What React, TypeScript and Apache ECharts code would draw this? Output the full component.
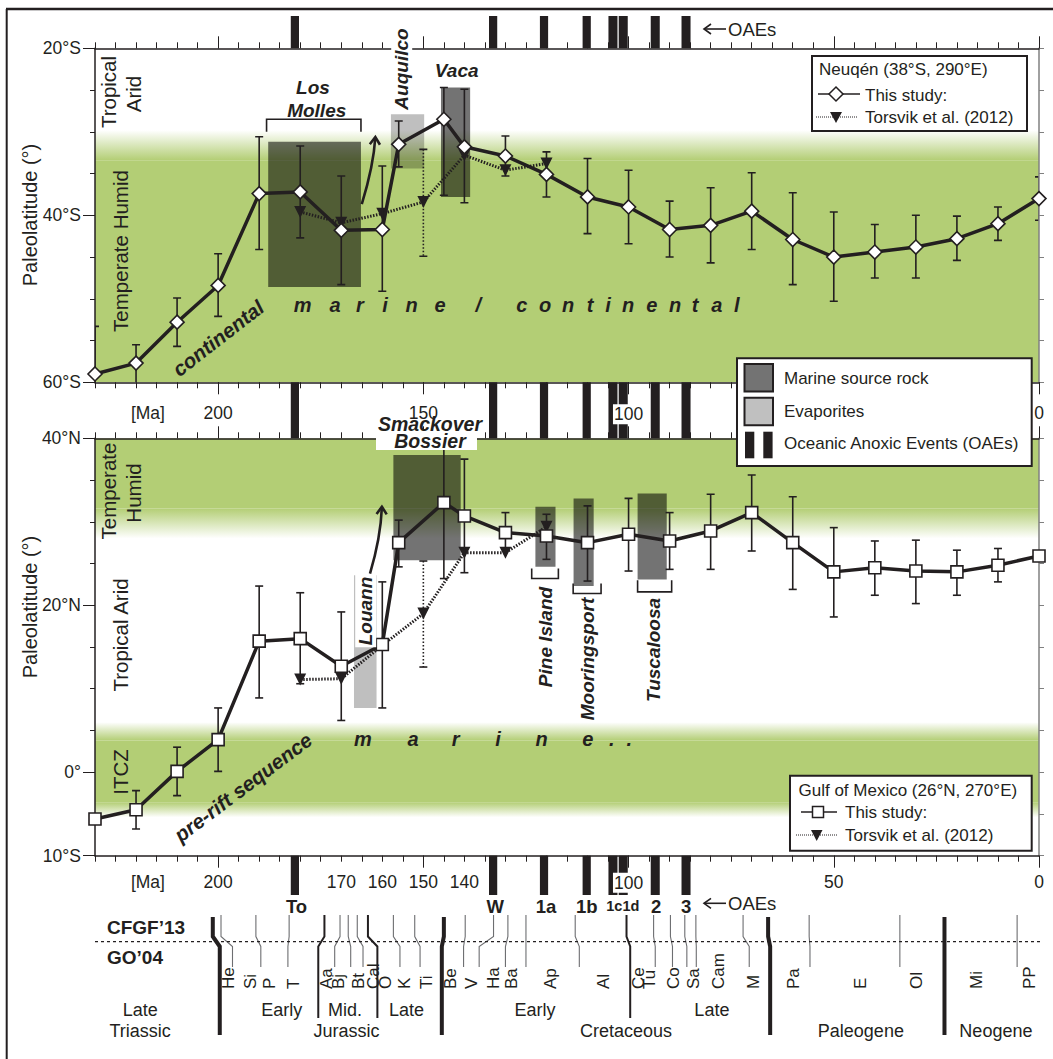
import React, { useEffect, useRef } from 'react';
import * as echarts from 'echarts';

const INK = '#231f20';
const GREEN = '#b3ce75';
const GREEN0 = 'rgba(179,206,117,0)';
const DARK_BOX = 'rgba(0,0,0,0.55)';
const LIGHT_BOX = 'rgba(0,0,0,0.25)';
const FONT = '"Liberation Sans", Arial, Helvetica, sans-serif';

// ---------- axes ----------
const AGE_MIN = 0;
const AGE_MAX = 230;
const maMajorTicks = [0, 50, 100, 150, 200];
const maLabelsTop = [217.1, 200, 150, 100, 0];
const maLabelsBottom = [217.1, 200, 170, 160, 150, 140, 100, 50, 0];
const latLabelsTop = [-20, -40, -60];
const latLabelsBottom = [40, 20, 0, -10];

// ---------- Neuquén (top panel) ----------
const neuquenStudy = [
  [230, -59.0], [220, -57.7], [210, -52.8], [200, -48.4], [190, -37.4], [180, -37.2],
  [170, -41.8], [160, -41.7], [156, -31.5], [145, -28.5], [140, -31.8], [130, -32.9],
  [120, -35.1], [110, -37.8], [100, -39.0], [90, -41.7], [80, -41.2], [70, -39.5],
  [60, -42.9], [50, -45.0], [40, -44.4], [30, -43.8], [20, -42.8], [10, -41.0], [0, -38.0],
];
const neuquenStudyErr = [
  [230, -53.3, -63], [220, -55.5, -61], [210, -49.9, -55.7], [200, -44.6, -52.1],
  [190, -30.6, -44.1], [180, -31.7, -42.7], [170, -35.3, -48.3], [160, -34.1, -49.1],
  [156, -28.7, -34.2], [145, -24.7, -37.6], [140, -24.9, -38.5], [130, -30.5, -35.3],
  [120, -32.4, -37.8], [110, -33.2, -42.2], [100, -34.6, -43.4], [90, -38.3, -45.0],
  [80, -36.7, -45.7], [70, -34.9, -44.1], [60, -37.3, -48.3], [50, -39.6, -50.3],
  [40, -41.1, -47.5], [30, -40.0, -47.5], [20, -40.1, -45.4], [10, -39.0, -43.0], [0, -35.4, -40.6],
];
const neuquenTorsvik = [[180, -39.6], [170, -40.9], [160, -39.8], [150, -38.4], [140, -32.8], [130, -34.6], [120, -33.8]];
const neuquenTorsvikErr = [[150, -32.1, -44.9]];
const neuquenBands = [[-29.8, -33.4, 1], [-33.4, -60, 0]];
const neuquenSourceRocks = [[187.8, 165.2, -31.2, -48.6], [145.7, 138.6, -24.7, -37.8]];
const neuquenEvaporites = [[157.9, 149.8, -27.9, -34.4]];
const neuquenBrackets = [[188.2, 165.2, -28.5, -30.0]];
const neuquenArrows = [[165.0, -38.65, 163.2, -35.77, 162.0, -33.14, 161.7, -30.63]];

// ---------- Gulf of Mexico (bottom panel) ----------
const gulfStudy = [
  [230, -5.6], [220, -4.5], [210, 0.1], [200, 3.9], [190, 15.7], [180, 16.0],
  [170, 12.7], [160, 15.3], [156, 27.5], [145, 32.3], [140, 30.7], [130, 28.7],
  [120, 28.3], [110, 27.5], [100, 28.5], [90, 27.7], [80, 28.9], [70, 31.1],
  [60, 27.5], [50, 24.0], [40, 24.5], [30, 24.1], [20, 24.0], [10, 24.8], [0, 25.9],
];
const gulfStudyErr = [
  [220, -2.2, -6.8], [210, 3.0, -2.8], [200, 7.7, 0.1], [190, 22.3, 8.9], [180, 21.5, 10.6],
  [170, 19.2, 6.2], [160, 22.8, 7.7], [156, 30.2, 24.6], [145, 42, 23.2], [140, 37.5, 23.9],
  [130, 31.1, 26.8], [120, 30.9, 25.5], [110, 31.9, 22.9], [100, 32.8, 24.1], [90, 31.1, 24.3],
  [80, 33.3, 24.3], [70, 35.6, 26.5], [60, 33.0, 21.9], [50, 29.3, 18.6], [40, 27.7, 21.2],
  [30, 27.8, 20.2], [20, 26.6, 21.2], [10, 26.8, 22.8],
];
const gulfTorsvik = [[180, 11.1], [170, 11.2], [160, 15.2], [150, 19.0], [140, 26.3], [130, 26.3], [120, 29.4]];
const gulfTorsvikErr = [[150, 25.3, 12.6]];
const gulfBands = [[40, 31.6, 0], [31.6, 28.0, 2], [6.0, 3.8, 1], [3.8, -3.6, 0], [-3.6, -5.4, 2]];
const gulfSourceRocks = [[157.3, 140.9, 38.0, 25.4], [122.7, 117.8, 31.8, 24.6], [113.4, 108.5, 32.8, 22.3], [97.8, 90.7, 33.4, 23.1]];
const gulfEvaporites = [[166.9, 161.4, 23.6, 7.7]];
const gulfBrackets = [[123.6, 117.1, 23.2, 24.4], [113.5, 106.7, 21.4, 22.6], [97.8, 89.5, 21.6, 23.0]];
const gulfArrows = [[163.0, 23.8, 161.3, 26.6, 160.3, 29.0, 160.1, 31.8]];

// ---------- OAEs ----------
const oaeIntervals = [[182.3, 180.3], [134.0, 132.0], [121.6, 119.6], [111.2, 109.2], [104.9, 102.7], [102.4, 100.2], [94.6, 92.4], [87.1, 84.9]];
const oaeLabels = ['To', 'W', '1a', '1b', '1c1d', '2', '3'];
const oaeLabelAges = [180.9, 132.5, 120.1, 110.2, 101.4, 93.3, 86.0];

// ---------- time scale ----------
const cfgf13Bounds = [201.3, 199.3, 190.8, 182.7, 174.1, 170.3, 168.3, 166.1, 163.5, 157.3, 152.1, 145.0, 139.8, 132.9, 129.4, 125.0, 113.0, 100.5, 93.9, 89.8, 86.3, 83.6, 72.1, 66.0, 56.0, 33.9, 23.03, 5.33];
const go04Bounds = [199.6, 196.5, 189.6, 183.0, 175.6, 171.6, 167.7, 164.7, 161.2, 155.7, 150.8, 145.5, 140.2, 136.4, 130.0, 125.0, 112.0, 99.6, 93.5, 89.3, 85.8, 83.5, 70.6, 65.5, 55.8, 33.9, 23.03, 5.33];
const boundRank = [3, 1, 1, 1, 2, 1, 1, 1, 2, 1, 1, 3, 1, 1, 1, 1, 1, 2, 1, 1, 1, 1, 1, 3, 1, 1, 3, 1];
const stageLabels = ['He', 'Si', 'P', 'T', 'Aa', 'Bj', 'Bt', 'Cal', 'O', 'K', 'Ti', 'Be', 'V', 'Ha', 'Ba', 'Ap', 'Al', 'Ce', 'Tu', 'Co', 'Sa', 'Cam', 'M', 'Pa', 'E', 'Ol', 'Mi', 'PP'];
const stageLabelAges = [197.5, 192.2, 187.4, 181.7, 173.5, 170.7, 165.8, 162.2, 159.3, 154.5, 149.2, 143.5, 138.2, 133.0, 128.5, 119.1, 106.1, 97.6, 94.8, 89.1, 84.2, 78.1, 69.6, 59.9, 43.6, 29.8, 15.2, 2.2];
const unitLabels = ['Late', 'Triassic', 'Early', 'Mid.', 'Late', 'Jurassic', 'Early', 'Late', 'Cretaceous', 'Paleogene', 'Neogene'];
const unitLabelAges = [219.0, 219.0, 184.5, 169.1, 154.1, 168.7, 122.8, 79.7, 100.6, 43.4, 10.5];
const unitLabelRows = [0, 1, 0, 0, 0, 1, 0, 0, 1, 1, 1];

// ---------- helpers ----------
const fmtMa = (v: number) => (v > 210 ? '[Ma]' : v === 100 ? '{w|100}' : String(v));
const fmtLat = (v: number) => (v < 0 ? `${-v}°S` : v > 0 ? `${v}°N` : '0°');

const xBase = { type: 'value', min: AGE_MIN, max: AGE_MAX, inverse: true, splitLine: { show: false } };
function xShort(gridIndex: number, position: string) {
  return {
    ...xBase, gridIndex, position, interval: 5, z: 6,
    axisLine: { show: true, onZero: false, lineStyle: { color: INK, width: 1.5 } },
    axisTick: { show: true, length: 6, lineStyle: { color: INK, width: 1 } },
    axisLabel: { show: false },
  };
}
function xLong(gridIndex: number, position: string, labels: number[] | null, margin: number) {
  return {
    ...xBase, gridIndex, position, interval: 50, z: 9,
    axisLine: { show: false, onZero: false },
    axisTick: { show: true, length: 12, customValues: maMajorTicks, lineStyle: { color: INK, width: 1 } },
    axisLabel: labels
      ? {
          show: true, customValues: labels, margin, fontSize: 17.5, fontFamily: FONT, color: INK, formatter: fmtMa,
          rich: { w: { backgroundColor: '#fff', fontSize: 17.5, fontFamily: FONT, color: INK, padding: [1, 1] } },
        }
      : { show: false },
  };
}
function yShort(gridIndex: number, position: string, min: number, max: number, color: string) {
  return {
    type: 'value', gridIndex, position, min, max, interval: 5, z: 6, splitLine: { show: false },
    axisLine: { show: true, onZero: false, lineStyle: { color, width: 1.5 } },
    axisTick: { show: true, length: 5, lineStyle: { color, width: 1 } },
    axisLabel: { show: false },
  };
}
function yLong(gridIndex: number, min: number, max: number, values: number[]) {
  return {
    type: 'value', gridIndex, position: 'left', min, max, interval: 5, z: 6, splitLine: { show: false },
    axisLine: { show: false, onZero: false },
    axisTick: { show: true, length: 12, customValues: values, lineStyle: { color: INK, width: 1 } },
    axisLabel: { show: true, customValues: values, margin: 14, formatter: fmtLat, fontSize: 17.5, fontFamily: FONT, color: INK },
  };
}

const errRender = (dashed: boolean) => (params: any, api: any) => {
  const x = api.value(0);
  const a = api.coord([x, api.value(1)]);
  const b = api.coord([x, api.value(2)]);
  const cap = 4;
  const solid = { stroke: INK, lineWidth: 1.6 };
  return {
    type: 'group',
    children: [
      { type: 'line', shape: { x1: a[0], y1: a[1], x2: b[0], y2: b[1] }, style: dashed ? { stroke: INK, lineWidth: 1.6, lineDash: [1.5, 2] } : solid },
      { type: 'line', shape: { x1: a[0] - cap, y1: a[1], x2: a[0] + cap, y2: a[1] }, style: solid },
      { type: 'line', shape: { x1: b[0] - cap, y1: b[1], x2: b[0] + cap, y2: b[1] }, style: solid },
    ],
  };
};

const bandRender = (params: any, api: any) => {
  const mode = api.value(2);
  const p0 = api.coord([AGE_MAX, api.value(0)]);
  const p1 = api.coord([AGE_MIN, api.value(1)]);
  let fill: any = GREEN;
  if (mode === 1) fill = new echarts.graphic.LinearGradient(0, 0, 0, 1, [{ offset: 0, color: GREEN0 }, { offset: 1, color: GREEN }]);
  if (mode === 2) fill = new echarts.graphic.LinearGradient(0, 0, 0, 1, [{ offset: 0, color: GREEN }, { offset: 1, color: GREEN0 }]);
  return { type: 'rect', shape: { x: p0[0], y: p0[1], width: p1[0] - p0[0], height: p1[1] - p0[1] }, style: { fill } };
};

const boxRender = (fill: string) => (params: any, api: any) => {
  const p0 = api.coord([api.value(0), api.value(2)]);
  const p1 = api.coord([api.value(1), api.value(3)]);
  return {
    type: 'rect',
    shape: { x: Math.min(p0[0], p1[0]), y: Math.min(p0[1], p1[1]), width: Math.abs(p1[0] - p0[0]), height: Math.abs(p1[1] - p0[1]) },
    style: { fill },
  };
};

const bracketRender = (params: any, api: any) => {
  const a = api.coord([api.value(0), api.value(2)]);
  const b = api.coord([api.value(1), api.value(2)]);
  const legY = api.coord([api.value(0), api.value(3)])[1];
  return {
    type: 'polyline',
    shape: { points: [[a[0], legY], [a[0], a[1]], [b[0], b[1]], [b[0], legY]] },
    style: { stroke: INK, lineWidth: 1.6, fill: 'none' },
  };
};

const arrowRender = (params: any, api: any) => {
  const p = [0, 1, 2, 3].map((i) => api.coord([api.value(2 * i), api.value(2 * i + 1)]));
  const dx = p[3][0] - p[2][0];
  const dy = p[3][1] - p[2][1];
  const ang = Math.atan2(dy, dx);
  const L = 9;
  const h1 = [p[3][0] - L * Math.cos(ang - 0.6), p[3][1] - L * Math.sin(ang - 0.6)];
  const h2 = [p[3][0] - L * Math.cos(ang + 0.6), p[3][1] - L * Math.sin(ang + 0.6)];
  return {
    type: 'group',
    children: [
      { type: 'bezierCurve', shape: { x1: p[0][0], y1: p[0][1], cpx1: p[1][0], cpy1: p[1][1], cpx2: p[2][0], cpy2: p[2][1], x2: p[3][0], y2: p[3][1] }, style: { stroke: INK, lineWidth: 2.6, fill: 'none' } },
      { type: 'polyline', shape: { points: [h1, p[3], h2] }, style: { stroke: INK, lineWidth: 2.6, fill: 'none' } },
    ],
  };
};

const OAE_STRIPS = [[16, 48.3], [382.3, 438.3], [855.7, 895]];
const oaeRender = (params: any, api: any) => {
  const x0 = api.coord([api.value(0), 0])[0];
  const x1 = api.coord([api.value(1), 0])[0];
  return {
    type: 'group',
    children: OAE_STRIPS.map(([a, b]) => ({
      type: 'rect', shape: { x: Math.min(x0, x1), y: a, width: Math.abs(x1 - x0), height: b - a }, style: { fill: INK },
    })),
  };
};
const oaeLabelRender = (params: any, api: any) => {
  const x = api.coord([api.value(0), 0])[0];
  const t = oaeLabels[params.dataIndex];
  return {
    type: 'text', x, y: 906,
    style: { text: t, fill: INK, fontFamily: FONT, fontWeight: 'bold', fontSize: t.length > 2 ? 14.5 : 18.5, align: 'center', verticalAlign: 'middle' },
  };
};

const boundaryRender = (params: any, api: any) => {
  const xa = api.coord([api.value(0), 0])[0];
  const xb = api.coord([api.value(1), 0])[0];
  const rank = api.value(2);
  const yTop = rank === 3 ? 917 : 915;
  const yBot = rank === 3 ? 1035 : rank === 2 ? 1018 : 967;
  return {
    type: 'polyline',
    shape: { points: [[xa, yTop], [xa, 936.5], [xb, 946.5], [xb, yBot]] },
    style: { stroke: rank === 1 ? '#6d6e71' : INK, lineWidth: rank === 3 ? 4 : rank === 2 ? 2 : 1.1, fill: 'none' },
  };
};
const stageLabelRender = (params: any, api: any) => {
  const x = api.coord([api.value(0), 0])[0];
  return {
    type: 'text', x, y: 989, rotation: Math.PI / 2,
    style: { text: stageLabels[params.dataIndex], fill: INK, fontFamily: FONT, fontSize: 17, align: 'left', verticalAlign: 'middle' },
  };
};
const unitLabelRender = (params: any, api: any) => {
  const x = api.coord([api.value(0), 0])[0];
  const row = unitLabelRows[params.dataIndex];
  return {
    type: 'text', x, y: row === 0 ? 1010 : 1031,
    style: { text: unitLabels[params.dataIndex], fill: INK, fontFamily: FONT, fontSize: 18, align: 'center', verticalAlign: 'middle' },
  };
};

function panelSeries(xi: number, yi: number, d: any, symbol: string, symbolSize: number) {
  const ax = { xAxisIndex: xi, yAxisIndex: yi };
  return [
    { type: 'custom', ...ax, data: d.bands, renderItem: bandRender, clip: true, z: 1, silent: true },
    { type: 'custom', ...ax, data: d.evaporites, renderItem: boxRender(LIGHT_BOX), clip: true, z: 2, silent: true },
    { type: 'custom', ...ax, data: d.sourceRocks, renderItem: boxRender(DARK_BOX), clip: true, z: 2, silent: true },
    { type: 'custom', ...ax, data: d.brackets, renderItem: bracketRender, clip: false, z: 3, silent: true },
    { type: 'custom', ...ax, data: d.arrows, renderItem: arrowRender, clip: false, z: 3, silent: true },
    { type: 'custom', ...ax, data: d.torsvikErr, renderItem: errRender(true), clip: true, z: 4, silent: true },
    {
      type: 'line', ...ax, data: d.torsvik, symbol: 'triangle', symbolRotate: 180, symbolSize: 12, clip: false, z: 4,
      lineStyle: { color: INK, width: 3, type: [1.5, 1.5] }, itemStyle: { color: INK }, silent: true,
    },
    { type: 'custom', ...ax, data: d.studyErr, renderItem: errRender(false), clip: true, z: 5, silent: true },
    {
      type: 'line', ...ax, data: d.study, symbol, symbolSize, clip: false, z: 7,
      lineStyle: { color: INK, width: 3.5 }, itemStyle: { color: '#fff', borderColor: INK, borderWidth: 1.6 }, silent: true,
    },
  ];
}

// ---------- graphic annotations ----------
const txt = (text: string, x: number, y: number, o: any = {}) => ({
  type: 'text', x, y, rotation: o.rot || 0, z: 20, silent: true,
  style: {
    text, fill: INK, fontFamily: FONT, fontSize: o.size || 17,
    fontWeight: o.bold ? 'bold' : 'normal', fontStyle: o.italic ? 'italic' : 'normal',
    align: o.align || 'center', verticalAlign: 'middle',
    backgroundColor: o.bg, padding: o.bg ? [1, 2] : 0, lineHeight: o.lh,
  },
});
const gline = (x1: number, y1: number, x2: number, y2: number, w = 1.5, dash: any = null, color = INK) => ({
  type: 'line', z: 20, silent: true, shape: { x1, y1, x2, y2 }, style: { stroke: color, lineWidth: w, lineDash: dash },
});
const grect = (x: number, y: number, width: number, height: number, fill: string, stroke: any = null, lw = 0) => ({
  type: 'rect', z: 20, silent: true, shape: { x, y, width, height }, style: { fill, stroke, lineWidth: lw },
});
const gpoly = (points: number[][], fill: string, stroke: any = null, lw = 0) => ({
  type: 'polygon', z: 21, silent: true, shape: { points }, style: { fill, stroke, lineWidth: lw },
});
const BI = { bold: true, italic: true, size: 19 };
const R90 = Math.PI / 2;

const marineTop = ['m', 'a', 'r', 'i', 'n', 'e', '/', 'c', 'o', 'n', 't', 'i', 'n', 'e', 'n', 't', 'a', 'l'];
const marineTopX = [302.7, 335, 360, 385, 411.7, 440, 478.3, 521.7, 545, 568, 590, 608, 628, 651.7, 675, 695, 716.7, 736.7];
const marineBottom = ['m', 'a', 'r', 'i', 'n', 'e', '.', '.'];
const marineBottomX = [363, 413, 455.7, 498, 541.7, 587.7, 611.7, 629.3];

function buildGraphics() {
  const g: any[] = [];
  // frame
  g.push(gline(6, 9, 1053, 9, 2.5));
  g.push(gline(6.7, 9, 6.7, 1059, 2));
  // axis titles & climate zones
  g.push(txt('Paleolatitude (°)', 30, 215, { rot: R90, size: 20 }));
  g.push(txt('Paleolatitude (°)', 30, 607, { rot: R90, size: 20 }));
  g.push(txt('Tropical', 108, 92, { rot: R90, size: 20.5 }));
  g.push(txt('Arid', 133, 94, { rot: R90, size: 20.5 }));
  g.push(txt('Temperate Humid', 120, 251, { rot: R90, size: 20.5 }));
  g.push(txt('Temperate', 108, 491, { rot: R90, size: 20.5 }));
  g.push(txt('Humid', 133, 493, { rot: R90, size: 20.5 }));
  g.push(txt('Tropical Arid', 120, 635, { rot: R90, size: 20.5 }));
  g.push(txt('ITCZ', 120, 772, { rot: R90, size: 20.5 }));
  // formation labels
  g.push(txt('Los', 313, 87, BI));
  g.push(txt('Molles', 316.7, 110, BI));
  g.push(txt('Auquilco', 401.7, 69, { ...BI, rot: R90, bg: '#fff' }));
  g.push(txt('Vaca', 456.7, 70, BI));
  g.push(grect(376, 430, 101, 20, '#fff'));
  g.push(txt('Smackover\nBossier', 430, 432.5, { ...BI, size: 19.5, lh: 16.5 }));
  g.push(txt('Louann', 365.7, 611, { ...BI, rot: R90, bg: '#fff' }));
  g.push(txt('Pine Island', 545, 637, { ...BI, rot: R90, bg: '#fff' }));
  g.push(txt('Mooringsport', 587, 659, { ...BI, rot: R90, bg: '#fff' }));
  g.push(txt('Tuscaloosa', 653, 650, { ...BI, rot: R90, bg: '#fff' }));
  g.push(txt('continental', 218, 338, { bold: true, italic: true, size: 20.5, rot: 0.66 }));
  g.push(txt('pre-rift sequence', 243, 787, { bold: true, italic: true, size: 20.5, rot: 0.645 }));
  marineTop.forEach((c, i) => g.push(txt(c, marineTopX[i], 305, { bold: true, italic: true, size: 20 })));
  marineBottom.forEach((c, i) => g.push(txt(c, marineBottomX[i], 739, { bold: true, italic: true, size: 20 })));
  // OAE arrows
  [29, 903.3].forEach((y) => {
    g.push(gline(704, y, 726, y, 1.6));
    g.push({ type: 'polyline', z: 20, silent: true, shape: { points: [[711, y - 5], [704, y], [711, y + 5]] }, style: { stroke: INK, lineWidth: 1.6, fill: 'none' } });
    g.push(txt('OAEs', 728, y, { size: 18.5, align: 'left' }));
  });
  // time scale header
  g.push(gline(95, 941.7, 1040, 941.7, 1.2, [3, 3]));
  g.push(txt('CFGF’13', 107, 927, { bold: true, size: 19, align: 'left' }));
  g.push(txt('GO’04', 107, 957, { bold: true, size: 19, align: 'left' }));
  // Legend: Neuquén
  g.push(grect(812, 56, 215, 75, '#fff', INK, 2));
  g.push(txt('Neuqén (38°S, 290°E)', 819, 69.5, { size: 17, align: 'left' }));
  g.push(gline(818, 94, 860, 94, 1.5));
  g.push(gpoly([[836, 87], [843, 94], [836, 101], [829, 94]], '#fff', INK, 1.5));
  g.push(txt('This study:', 865, 95, { size: 17, align: 'left' }));
  g.push(gline(816, 117, 858, 117, 1, [1, 1]));
  g.push(gpoly([[830, 112], [842, 112], [836, 123]], INK));
  g.push(txt('Torsvik et al. (2012)', 865, 117.5, { size: 17, align: 'left' }));
  // Legend: rock types
  g.push(grect(737, 358.3, 294.7, 107.7, '#fff', INK, 2));
  g.push(grect(744.5, 364, 28.5, 27.5, '#737373', INK, 2));
  g.push(grect(744.5, 397.7, 28.5, 27.5, '#c0c0c0', INK, 2));
  g.push(grect(745, 431.7, 9.3, 26.6, INK));
  g.push(grect(763.3, 431.7, 9.3, 26.6, INK));
  g.push(txt('Marine source rock', 784, 378, { size: 17, align: 'left' }));
  g.push(txt('Evaporites', 784, 411, { size: 17, align: 'left' }));
  g.push(txt('Oceanic Anoxic Events (OAEs)', 784, 443.5, { size: 17, align: 'left' }));
  // Legend: Gulf of Mexico
  g.push(grect(790, 775.7, 241.7, 75, '#fff', INK, 2));
  g.push(txt('Gulf of Mexico (26°N, 270°E)', 798.5, 790, { size: 17, align: 'left' }));
  g.push(gline(801, 812, 837, 812, 1.5));
  g.push({ ...grect(812.5, 806.5, 11, 11, '#fff', INK, 1.5), z: 21 });
  g.push(txt('This study:', 845, 812, { size: 17, align: 'left' }));
  g.push(gline(796, 835, 838, 835, 1, [1, 1]));
  g.push(gpoly([[811, 830], [822.5, 830], [816.7, 841]], INK));
  g.push(txt('Torsvik et al. (2012)', 845, 835, { size: 17, align: 'left' }));
  return g;
}

export default function App() {
  const ref = useRef<HTMLDivElement>(null);
  useEffect(() => {
    document.body.style.margin = '0';
    if (!ref.current) return;
    const chart = echarts.init(ref.current, null, { renderer: 'svg' });
    const top = {
      bands: neuquenBands, evaporites: neuquenEvaporites, sourceRocks: neuquenSourceRocks, brackets: neuquenBrackets,
      arrows: neuquenArrows, torsvik: neuquenTorsvik, torsvikErr: neuquenTorsvikErr, study: neuquenStudy, studyErr: neuquenStudyErr,
    };
    const bottom = {
      bands: gulfBands, evaporites: gulfEvaporites, sourceRocks: gulfSourceRocks, brackets: gulfBrackets,
      arrows: gulfArrows, torsvik: gulfTorsvik, torsvikErr: gulfTorsvikErr, study: gulfStudy, studyErr: gulfStudyErr,
    };
    const option: any = {
      animation: false,
      backgroundColor: '#fff',
      textStyle: { fontFamily: FONT },
      grid: [
        { left: 95, top: 48.3, width: 944, height: 334, containLabel: false, outerBoundsMode: 'none' },
        { left: 95, top: 438.3, width: 944, height: 417.4, containLabel: false, outerBoundsMode: 'none' },
      ],
      xAxis: [
        xShort(0, 'bottom'), xLong(0, 'bottom', maLabelsTop, 22), xShort(0, 'top'), xLong(0, 'top', null, 0),
        xShort(1, 'bottom'), xLong(1, 'bottom', maLabelsBottom, 17), xShort(1, 'top'), xLong(1, 'top', null, 0),
      ],
      yAxis: [
        yShort(0, 'left', -60, -20, INK), yLong(0, -60, -20, latLabelsTop), yShort(0, 'right', -60, -20, '#808080'),
        yShort(1, 'left', -10, 40, INK), yLong(1, -10, 40, latLabelsBottom), yShort(1, 'right', -10, 40, '#808080'),
      ],
      series: [
        ...panelSeries(0, 0, top, 'diamond', 14),
        ...panelSeries(4, 3, bottom, 'rect', 12),
        { type: 'custom', xAxisIndex: 4, yAxisIndex: 3, data: oaeIntervals, renderItem: oaeRender, clip: false, z: 8, silent: true },
        { type: 'custom', xAxisIndex: 4, yAxisIndex: 3, data: oaeLabelAges.map((a) => [a, 0]), renderItem: oaeLabelRender, clip: false, z: 8, silent: true },
        {
          type: 'custom', xAxisIndex: 4, yAxisIndex: 3, clip: false, z: 8, silent: true,
          data: cfgf13Bounds.map((a, i) => [a, go04Bounds[i], boundRank[i]]), renderItem: boundaryRender,
        },
        { type: 'custom', xAxisIndex: 4, yAxisIndex: 3, data: stageLabelAges.map((a) => [a, 0]), renderItem: stageLabelRender, clip: false, z: 8, silent: true },
        { type: 'custom', xAxisIndex: 4, yAxisIndex: 3, data: unitLabelAges.map((a) => [a, 0]), renderItem: unitLabelRender, clip: false, z: 8, silent: true },
      ],
      graphic: { elements: buildGraphics() },
    };
    chart.setOption(option);
    return () => chart.dispose();
  }, []);
  return <div ref={ref} style={{ width: 1053, height: 1059 }} />;
}
